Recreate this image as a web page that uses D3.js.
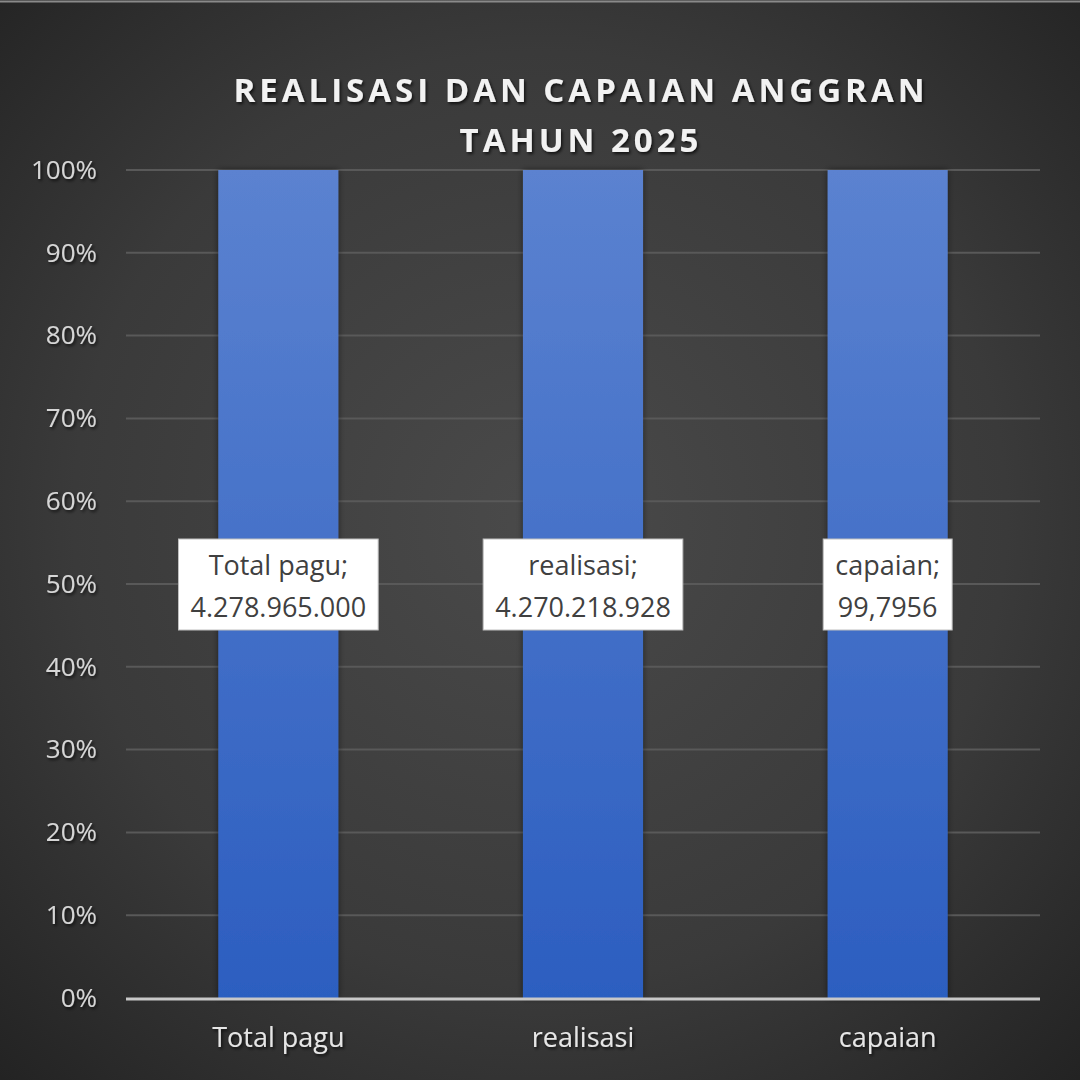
<!DOCTYPE html>
<html>
<head>
<meta charset="utf-8">
<script src="https://cdn.jsdelivr.net/npm/d3@7"></script>
<style>
  html, body { margin: 0; padding: 0; background: #1e1e1e; }
  svg { display: block; }
</style>
</head>
<body>
<div id="chart"></div>
<script>
// DATA
const categories = ['Total pagu', 'realisasi', 'capaian'];
const values = [4278965000, 4270218928, 99.7956];
const decimals = [0, 0, 4];
const yTicks = [0, 0.1, 0.2, 0.3, 0.4, 0.5, 0.6, 0.7, 0.8, 0.9, 1];
const titleLines = ['REALISASI DAN CAPAIAN ANGGRAN', 'TAHUN 2025'];

const W = 1080, H = 1080,
      margin = { top: 170, right: 40, bottom: 82, left: 126 };

const idLocale = d3.formatLocale({ decimal: ',', thousands: '.', grouping: [3], currency: ['Rp', ''] });

// one series per column, stacked to 100%
const rows = categories.map((c, i) => ({ cat: c, v: values[i] }));
const stacked = d3.stack()
  .keys(['v'])
  .offset(d3.stackOffsetExpand)(rows)[0];

const svg = d3.select('#chart')
  .append('svg')
  .attr('width', W)
  .attr('height', H);

const defs = svg.append('defs');

const bg = defs.append('radialGradient')
  .attr('id', 'bg')
  .attr('cx', '50%').attr('cy', '48%').attr('r', '72%');
bg.append('stop').attr('offset', '0%').attr('stop-color', '#4a4a4a');
bg.append('stop').attr('offset', '60%').attr('stop-color', '#3a3a3a');
bg.append('stop').attr('offset', '100%').attr('stop-color', '#232323');

const barGrad = defs.append('linearGradient')
  .attr('id', 'bar')
  .attr('x1', 0).attr('y1', 0).attr('x2', 0).attr('y2', 1);
barGrad.append('stop').attr('offset', '0%').attr('stop-color', '#5b82d0');
barGrad.append('stop').attr('offset', '100%').attr('stop-color', '#2c5ec0');

const shadow = defs.append('filter').attr('id', 'shadow')
  .attr('x', '-20%').attr('y', '-20%').attr('width', '140%').attr('height', '140%');
shadow.append('feDropShadow')
  .attr('dx', 1.5).attr('dy', 2).attr('stdDeviation', 1.5)
  .attr('flood-color', '#000').attr('flood-opacity', 0.7);

const barShadow = defs.append('filter').attr('id', 'barShadow')
  .attr('x', '-20%').attr('y', '-5%').attr('width', '140%').attr('height', '110%');
barShadow.append('feDropShadow')
  .attr('dx', 0).attr('dy', 0).attr('stdDeviation', 3)
  .attr('flood-color', '#000').attr('flood-opacity', 0.5);

svg.append('rect')
  .attr('width', W).attr('height', H)
  .attr('fill', 'url(#bg)');

// thin frame line at the top
svg.append('line')
  .attr('x1', 0).attr('x2', W).attr('y1', 1.5).attr('y2', 1.5)
  .attr('stroke', '#8a8a8a').attr('stroke-width', 2);

const x = d3.scaleBand()
  .domain(categories)
  .range([margin.left, W - margin.right])
  .paddingInner(0.606)
  .paddingOuter(0.303);

const y = d3.scaleLinear()
  .domain([0, 1])
  .range([H - margin.bottom, margin.top]);

// gridlines
svg.append('g')
  .selectAll('line')
  .data(yTicks.slice(1))
  .join('line')
  .attr('x1', margin.left).attr('x2', W - margin.right)
  .attr('y1', d => y(d)).attr('y2', d => y(d))
  .attr('stroke', '#595959').attr('stroke-width', 2);

// y axis labels
const yAxis = svg.append('g')
  .attr('transform', `translate(${margin.left},0)`)
  .call(d3.axisLeft(y).tickValues(yTicks).tickFormat(d3.format('.0%')).tickSize(0).tickPadding(29));
yAxis.select('.domain').remove();
yAxis.selectAll('text')
  .attr('fill', '#d6d6d6')
  .attr('font-family', '"Open Sans", sans-serif')
  .attr('font-size', 26)
  .attr('filter', 'url(#shadow)');

// bars
svg.append('g')
  .selectAll('rect')
  .data(stacked)
  .join('rect')
  .attr('x', d => x(d.data.cat))
  .attr('width', x.bandwidth())
  .attr('y', d => y(d[1]))
  .attr('height', d => y(d[0]) - y(d[1]))
  .attr('fill', 'url(#bar)')
  .attr('filter', 'url(#barShadow)');

// baseline
svg.append('line')
  .attr('x1', margin.left).attr('x2', W - margin.right)
  .attr('y1', y(0) + 1).attr('y2', y(0) + 1)
  .attr('stroke', '#c8c8c8').attr('stroke-width', 3);

// x axis labels
const xAxis = svg.append('g')
  .attr('transform', `translate(0,${y(0)})`)
  .call(d3.axisBottom(x).tickSize(0).tickPadding(30));
xAxis.select('.domain').remove();
xAxis.selectAll('text')
  .attr('fill', '#e6e6e6')
  .attr('font-family', '"Open Sans", sans-serif')
  .attr('font-size', 27)
  .attr('filter', 'url(#shadow)');

// data labels
const labels = svg.append('g')
  .selectAll('g')
  .data(stacked)
  .join('g')
  .attr('transform', d => `translate(${x(d.data.cat) + x.bandwidth() / 2},${y((d[0] + d[1]) / 2)})`);

labels.each(function (d, i) {
  const g = d3.select(this);
  const text = g.append('text')
    .attr('text-anchor', 'middle')
    .attr('font-family', '"Open Sans", sans-serif')
    .attr('font-size', 27)
    .attr('fill', '#404040');
  text.append('tspan').attr('x', 0).attr('y', -9).text(d.data.cat + ';');
  text.append('tspan').attr('x', 0).attr('y', 33)
    .text(idLocale.format(`,.${decimals[i]}f`)(d.data.v));
  const bb = text.node().getBBox();
  g.insert('rect', 'text')
    .attr('x', bb.x - 12).attr('y', -45)
    .attr('width', bb.width + 24).attr('height', 91)
    .attr('fill', '#ffffff')
    .attr('stroke', '#bfbfbf').attr('stroke-width', 1);
});

// title
svg.append('text')
  .attr('text-anchor', 'middle')
  .attr('font-family', '"Open Sans", sans-serif')
  .attr('font-weight', 700)
  .attr('font-size', 33)
  .attr('letter-spacing', 4)
  .attr('fill', '#f2f2f2')
  .attr('filter', 'url(#shadow)')
  .selectAll('tspan')
  .data(titleLines)
  .join('tspan')
  .attr('x', 581)
  .attr('y', (d, i) => 102 + i * 50)
  .text(d => d);
</script>
</body>
</html>
